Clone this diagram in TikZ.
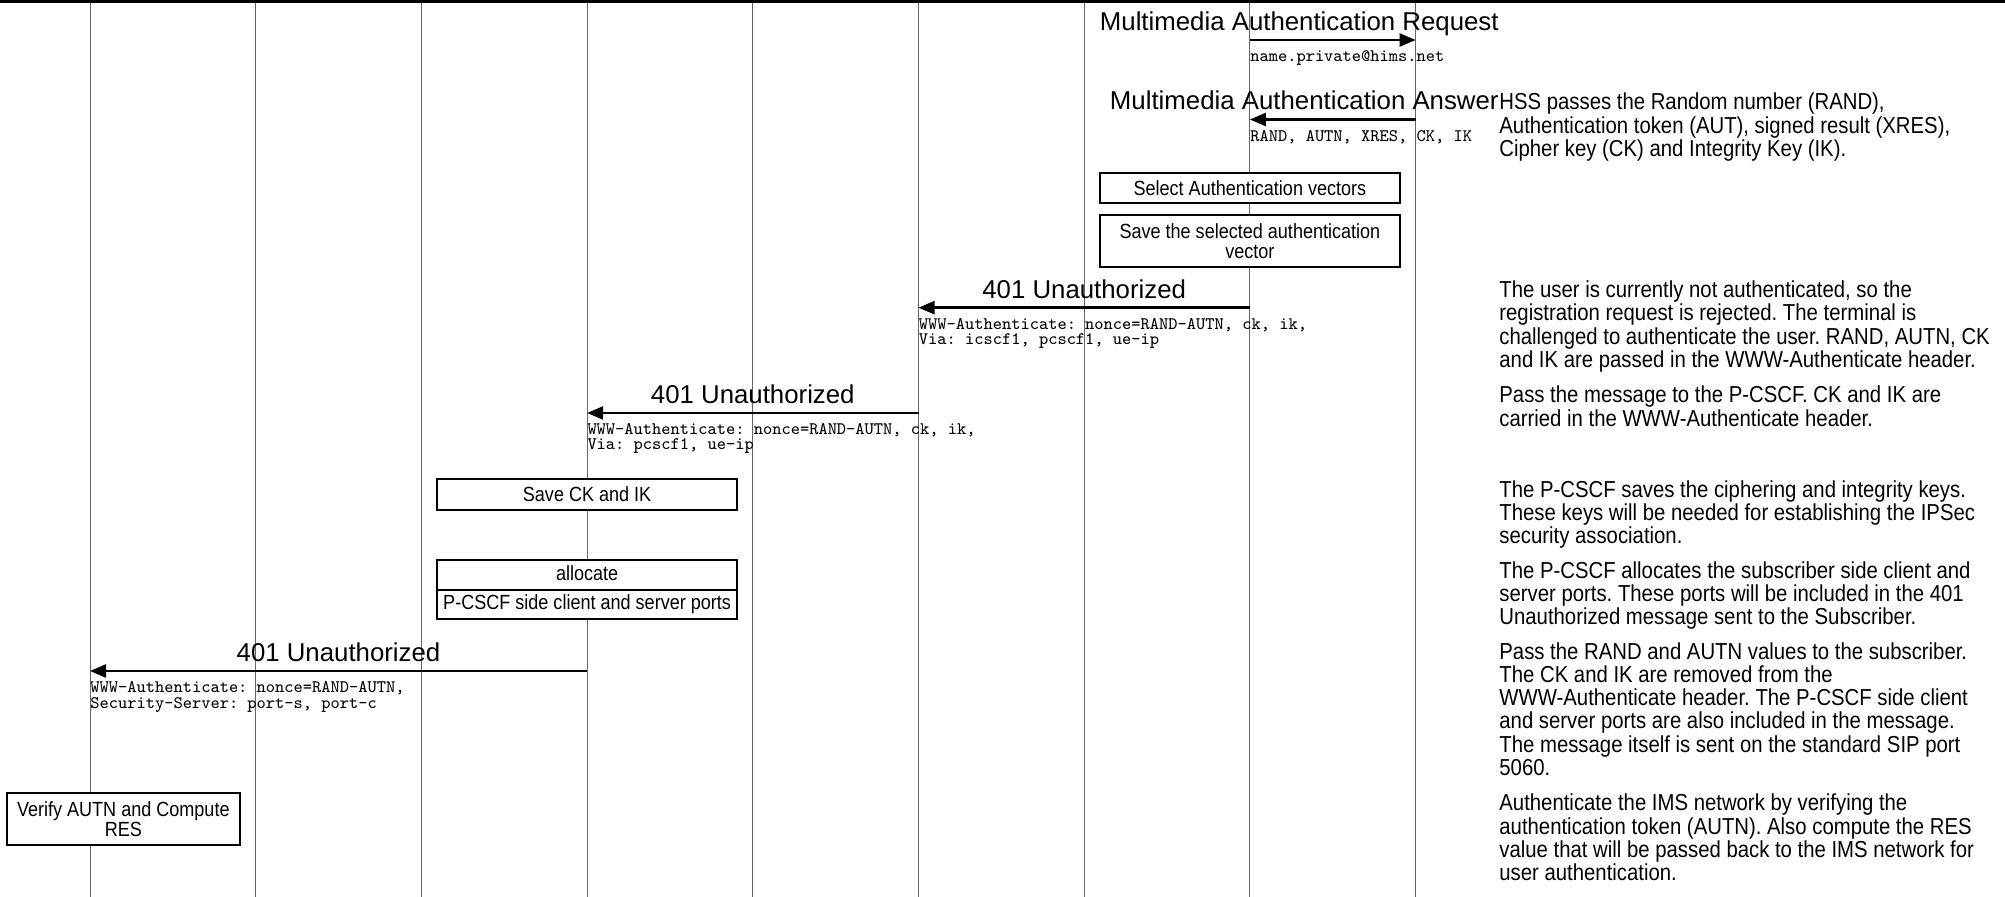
\documentclass[tikz,border=0pt]{standalone}
\usepackage{fontspec}
\setmainfont{Liberation Sans}
\newfontfamily\narrowfont{Liberation Sans}[FakeStretch=0.88]
\usetikzlibrary{arrows.meta}
\frenchspacing

\begin{document}
\begin{tikzpicture}[
    x=0.5pt, y={(0pt,-0.5pt)},
    lifeline/.style={draw=black!60, line width=0.5pt},
    msg/.style={draw, line width=1.2pt, -{Triangle[length=8pt, width=6.5pt]}},
    msglabel/.style={anchor=base, inner sep=0pt, font=\fontsize{12.9}{15}\selectfont},
    params/.style={anchor=base west, inner sep=0pt, align=left, font=\ttfamily\fontsize{8.8}{7.75}\selectfont},
    actbox/.style={draw, line width=1pt, fill=white, minimum width=150pt, align=center, inner sep=0pt, font=\narrowfont\fontsize{10.25}{10}\selectfont},
    note/.style={anchor=base west, inner sep=0pt, align=left, font=\narrowfont\fontsize{11.55}{11.65}\selectfont}
  ]
  \useasboundingbox (0,0) rectangle (2005,897);

  % lifelines
  \foreach \i in {0,...,8} {
    \coordinate (lt\i) at (90+165.7*\i, 0);
    \coordinate (lb\i) at (90+165.7*\i, 897);
    \draw[lifeline] (lt\i) -- (lb\i);
  }
  \draw[line width=2pt] (0,1.5) -- (2005,1.5);

  % local actions
  \node[actbox, minimum height=15.3pt] (select) at (1249.9,188) {Select Authentication vectors};
  \node[actbox, minimum height=26.15pt] (savesel) at (1249.9,241.2) {Save the selected authentication\\vector};
  \node[actbox, minimum height=15.5pt] (saveck) at (587.1,494.5) {Save CK and IK};
  \node[actbox, minimum height=29.65pt, font=\narrowfont\fontsize{10.25}{14.15}\selectfont] (alloc) at (587.1,589.6) {allocate\\P-CSCF side client and server ports};
  \draw[line width=1pt] (alloc.west) -- (alloc.east);
  \node[actbox, minimum width=116.65pt, minimum height=26pt] (verify) at (123.3,819.3) {Verify AUTN and Compute\\RES};

  % Multimedia Authentication Request
  \coordinate (mar-s) at (1249.9,40);
  \coordinate (mar-e) at (1415.6,40);
  \draw[msg] (mar-s) -- (mar-e);
  \node[msglabel, anchor=base east] (mar-lbl) at (1499,30.5) {Multimedia Authentication Request};
  \node[params] (mar-par) at (1249.9,61.7) {name.private@hims.net};

  % Multimedia Authentication Answer
  \coordinate (maa-s) at (1415.6,119.5);
  \coordinate (maa-e) at (1249.9,119.5);
  \draw[msg] (maa-s) -- (maa-e);
  \node[msglabel, anchor=base east] (maa-lbl) at (1499,110) {Multimedia Authentication Answer};
  \node[params] (maa-par) at (1249.9,141.5) {RAND, AUTN, XRES, CK, IK};

  % 401 from S-CSCF (base = last line)
  \coordinate (ua-s) at (1249.9,307.7);
  \coordinate (ua-e) at (918.5,307.7);
  \draw[msg] (ua-s) -- (ua-e);
  \node[msglabel] (ua-lbl) at (1084.2,298.3) {401 Unauthorized};
  \node[params] (ua-par) at (918.5,329.3+15.5) {WWW-Authenticate: nonce=RAND-AUTN, ck, ik,\\Via: icscf1, pcscf1, ue-ip};

  % 401 from I-CSCF
  \coordinate (ub-s) at (918.5,413);
  \coordinate (ub-e) at (587.1,413);
  \draw[msg] (ub-s) -- (ub-e);
  \node[msglabel] (ub-lbl) at (752.8,403.7) {401 Unauthorized};
  \node[params] (ub-par) at (587.1,434.5+15.5) {WWW-Authenticate: nonce=RAND-AUTN, ck, ik,\\Via: pcscf1, ue-ip};

  % 401 from P-CSCF
  \coordinate (uc-s) at (587.1,671);
  \coordinate (uc-e) at (90,671);
  \draw[msg] (uc-s) -- (uc-e);
  \node[msglabel] (uc-lbl) at (338.5,661.7) {401 Unauthorized};
  \node[params] (uc-par) at (90,692.5+15.5) {WWW-Authenticate: nonce=RAND-AUTN,\\Security-Server: port-s, port-c};

  % notes (first baseline + lines * 23.3)
  \node[note] (n-hss) at (1499,110+2*23.3) {HSS passes the Random number (RAND),\\Authentication token (AUT), signed result (XRES),\\Cipher key (CK) and Integrity Key (IK).};
  \node[note] (n-user) at (1499,297.5+3*23.3) {The user is currently not authenticated, so the\\registration request is rejected. The terminal is\\challenged to authenticate the user. RAND, AUTN, CK\\and IK are passed in the WWW-Authenticate header.};
  \node[note] (n-pass) at (1499,403+23.3) {Pass the message to the P-CSCF. CK and IK are\\carried in the WWW-Authenticate header.};
  \node[note] (n-save) at (1499,497+2*23.3) {The P-CSCF saves the ciphering and integrity keys.\\These keys will be needed for establishing the IPSec\\security association.};
  \node[note] (n-alloc) at (1499,578+2*23.3) {The P-CSCF allocates the subscriber side client and\\server ports. These ports will be included in the 401\\Unauthorized message sent to the Subscriber.};
  \node[note] (n-rand) at (1499,659+5*23.3) {Pass the RAND and AUTN values to the subscriber.\\The CK and IK are removed from the\\WWW-Authenticate header. The P-CSCF side client\\and server ports are also included in the message.\\The message itself is sent on the standard SIP port\\5060.};
  \node[note] (n-ims) at (1499,810.7+3*23.3) {Authenticate the IMS network by verifying the\\authentication token (AUTN). Also compute the RES\\value that will be passed back to the IMS network for\\user authentication.};
\end{tikzpicture}
\end{document}
